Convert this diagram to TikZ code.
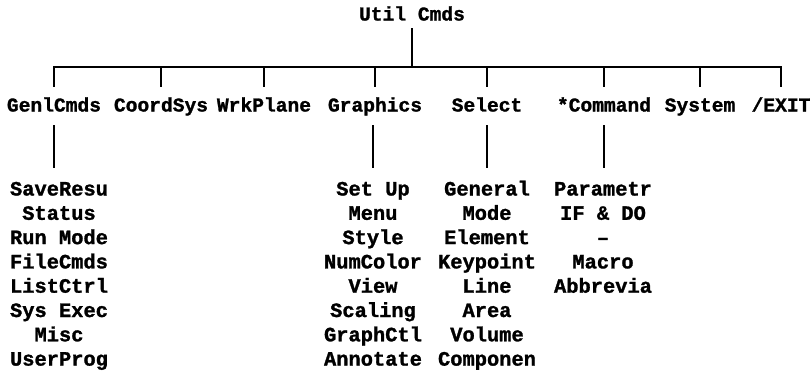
\documentclass[tikz,border=0pt]{standalone}
\usepackage{fontspec}
\newfontfamily\termfont{Liberation Mono}[BoldFeatures={FakeBold=1.3}]
\usetikzlibrary{positioning}

\begin{document}
\begin{tikzpicture}[
    x=1pt, y=-1pt,
    menu/.style={font=\termfont\bfseries\fontsize{19.6}{24}\selectfont,
                 inner sep=0pt, text height=11pt, text depth=3pt},
    item/.style={menu, font=\termfont\bfseries\fontsize{20.4}{24}\selectfont},
    wire/.style={line width=1.7pt, black}
]
\useasboundingbox (0,0) rectangle (811,372);
\coordinate (bus) at (0,67);

% top of the menu tree
\node[menu, anchor=base] (root) at (412,20.5) {Util Cmds};
\draw[wire, shorten <=4.5pt] (root.south) -- (root.south |- bus);

% first level
\foreach \t/\x [count=\i] in {GenlCmds/54, CoordSys/161, WrkPlane/264,
    Graphics/375, Select/487, *Command/604, System/700, \slash EXIT/781}
    \node[menu, anchor=base] (h\i) at (\x,111.5) {\t};
\draw[wire, shorten <=13.5pt, shorten >=13.5pt]
    (h1.north) -- (h1.north |- bus) -- (h8.north |- bus) -- (h8.north);
\foreach \i in {2,...,7}
    \draw[wire, shorten <=13.5pt] (h\i.north) -- (h\i.north |- bus);

% second level
\foreach \t [count=\k] in {SaveResu, Status, Run Mode, FileCmds, ListCtrl,
    Sys Exec, Misc, UserProg}
    \node[item, anchor=base] (gen\k) at (59,171.2+24.3*\k) {\t};
\foreach \t [count=\k] in {Set Up, Menu, Style, NumColor, View, Scaling,
    GraphCtl, Annotate}
    \node[item, anchor=base] (gra\k) at (373,171.2+24.3*\k) {\t};
\foreach \t [count=\k] in {General, Mode, Element, Keypoint, Line, Area,
    Volume, Componen}
    \node[item, anchor=base] (sel\k) at (487,171.2+24.3*\k) {\t};
\foreach \t [count=\k] in {Parametr, IF \& DO, –, Macro, Abbrevia}
    \node[item, anchor=base] (cmd\k) at (603,171.2+24.3*\k) {\t};

\draw[wire, shorten <=10.5pt, shorten >=16.5pt] (h1.south) -- (h1.south |- gen1.north);
\draw[wire, shorten <=10.5pt, shorten >=16.5pt] (gra1.north |- h4.south) -- (gra1.north);
\draw[wire, shorten <=10.5pt, shorten >=16.5pt] (h5.south) -- (h5.south |- sel1.north);
\draw[wire, shorten <=10.5pt, shorten >=16.5pt] (h6.south) -- (h6.south |- cmd1.north);
\end{tikzpicture}
\end{document}
